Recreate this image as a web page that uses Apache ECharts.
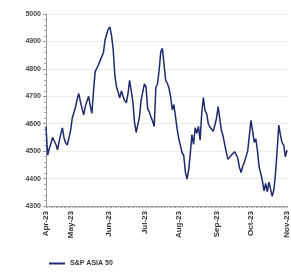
<!DOCTYPE html>
<html><head><meta charset="utf-8">
<script src="https://cdn.jsdelivr.net/npm/echarts@6/dist/echarts.min.js"></script>
<style>html,body{margin:0;padding:0;background:#fff}#c{width:291px;height:272px}</style>
</head><body><div id="c"></div>
<script>
// Weekday dates from 10 Apr 2023 to 1 Nov 2023
const startDate = '2023-04-10';
const endDate = '2023-11-01';
const monthNames = ['Jan','Feb','Mar','Apr','May','Jun','Jul','Aug','Sep','Oct','Nov','Dec'];
const seriesName = 'S&P ASIA 50';
const values = [
4590,4485,4510,4528,4550,4545,4525,4505,4535,4562,
4585,4548,4530,4522,4515,4575,4620,4615,4660,4690,
4710,4680,4655,4632,4665,4660,4700,4665,4638,4720,
4790,4792,4815,4830,4825,4858,4905,4912,4945,4953,
4920,4869,4775,4735,4715,4694,4720,4700,4684,4676,
4710,4758,4752,4680,4605,4568,4575,4625,4685,4715,
4745,4734,4655,4643,4625,4610,4590,4732,4745,4795,
4862,4875,4880,4757,4748,4730,4700,4650,4670,4625,
4580,4545,4520,4494,4485,4425,4398,4430,4490,4560,
4525,4585,4565,4590,4540,4640,4695,4648,4637,4600,
4588,4582,4572,4595,4620,4662,4665,4575,4555,4525,
4495,4470,4475,4485,4480,4498,4500,4475,4440,4422,
4445,4460,4462,4500,4555,4612,4575,4532,4545,4500,
4442,4418,4392,4355,4382,4352,4387,4393,4335,4360,
4420,4504,4595,4559,4530,4522,4479,4504
];
const yMin = 4300, yMax = 5000, yStep = 100;

const dates = [];
for (let d = new Date(startDate + 'T00:00:00Z'); d <= new Date(endDate + 'T00:00:00Z'); d.setUTCDate(d.getUTCDate() + 1)) {
  const wd = d.getUTCDay();
  if (wd !== 0 && wd !== 6) dates.push(new Date(d.getTime()));
}
const categories = dates.map(d => d.toISOString().slice(0,10));
const showIdx = new Set([0]);
for (let i = 1; i < dates.length; i++) {
  if (dates[i].getUTCMonth() !== dates[i-1].getUTCMonth()) showIdx.add(i);
}
function fmt(s){const d=new Date(s+'T00:00:00Z');return monthNames[d.getUTCMonth()]+'-'+String(d.getUTCFullYear()).slice(2);}

const chart = echarts.init(document.getElementById('c'), null, {renderer:'canvas'});
chart.setOption({
  animation:false,
  backgroundColor:'#ffffff',
  grid:{left:46,right:1,top:14,bottom:66,containLabel:false},
  legend:{
    left:44,bottom:0,itemWidth:16,itemHeight:2,itemGap:4,
    icon:'rect',
    textStyle:{fontFamily:'Liberation Sans, Arial',fontSize:7,fontWeight:'bold',color:'#333'},
    data:[seriesName]
  },
  xAxis:{
    type:'category',data:categories,boundaryGap:false,
    axisLine:{lineStyle:{color:'#999',width:1}},
    axisTick:{show:true,interval:0,length:2,lineStyle:{color:'#aaa'}},
    axisLabel:{
      interval:(i)=>showIdx.has(i),
      rotate:90,margin:5,
      formatter:(v)=>fmt(v),
      fontFamily:'Liberation Sans, Arial',fontSize:8,fontWeight:'bold',color:'#333'
    },
    splitLine:{show:false}
  },
  yAxis:{
    type:'value',min:yMin,max:yMax,interval:yStep,
    axisLine:{show:true,lineStyle:{color:'#999',width:1}},
    axisTick:{show:true,length:3,lineStyle:{color:'#999'}},
    minorTick:{show:true,splitNumber:5,length:2,lineStyle:{color:'#aaa'}},
    axisLabel:{margin:5,formatter:(v)=>String(v),fontFamily:'Liberation Sans, Arial',fontSize:7,fontWeight:'bold',color:'#444'},
    splitLine:{show:true,lineStyle:{color:'#ececec',width:1}}
  },
  series:[{
    name:seriesName,type:'line',data:values,showSymbol:false,symbol:'none',
    lineStyle:{color:'#1f2a6e',width:1.5},itemStyle:{color:'#1f2a6e'}
  }]
});
</script></body></html>
